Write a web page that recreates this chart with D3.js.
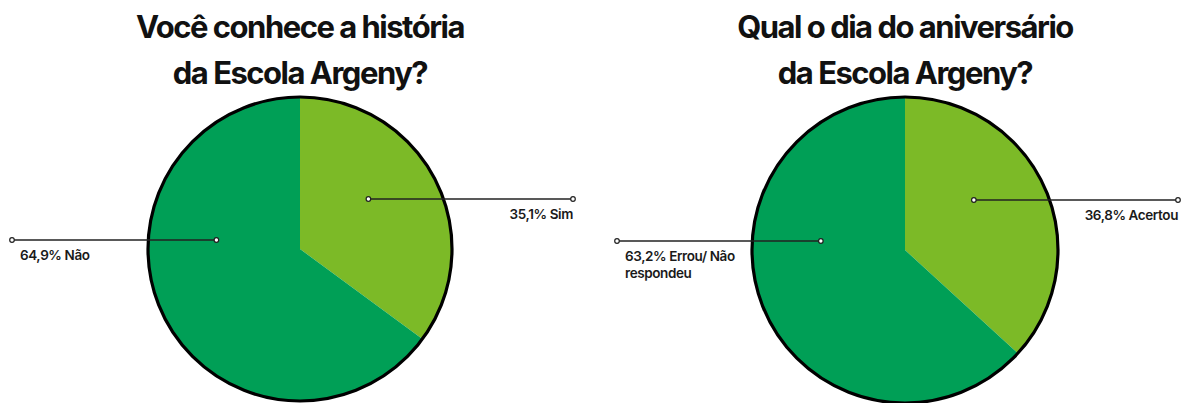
<!DOCTYPE html>
<html><head><meta charset="utf-8">
<script src="https://cdn.jsdelivr.net/npm/d3@7/dist/d3.min.js"></script>
<style>
html,body{margin:0;padding:0;background:#fff;overflow:hidden}
svg{display:block}
</style></head><body>
<script>
// ---- Data ----
const titlesLeft = ["Você conhece a história", "da Escola Argeny?"];
const titlesRight = ["Qual o dia do aniversário", "da Escola Argeny?"];
const categoriesLeft = ["Sim", "Não"];
const valuesLeft = [35.1, 64.9];
const labelsLeft = [["35,1% Sim"], ["64,9% Não"]];
const categoriesRight = ["Acertou", "Errou/ Não respondeu"];
const valuesRight = [36.8, 63.2];
const labelsRight = [["36,8% Acertou"], ["63,2% Errou/ Não", "respondeu"]];

const W = 1187, H = 403;
const svg = d3.select("body").append("svg").attr("width", W).attr("height", H);
const color = d3.scaleOrdinal().range(["#7cba27", "#009f56"]);

function drawPie(cx, cy, r, titles, cats, vals, labels) {
  const g = svg.append("g");
  titles.forEach((t, i) => {
    g.append("text").attr("x", cx).attr("y", 38 + i * 46)
      .attr("text-anchor", "middle")
      .style("font-family", "Inter, 'Open Sans', sans-serif")
      .style("font-weight", 700).style("font-size", "31px")
      .style("letter-spacing", "-1.5px").attr("fill", "#111")
      .text(t);
  });
  const pie = d3.pie().sort(null).value(d => d)(vals);
  const arc = d3.arc().innerRadius(0).outerRadius(r);
  const pg = g.append("g").attr("transform", `translate(${cx},${cy})`);
  color.domain(cats);
  pg.selectAll("path").data(pie).enter().append("path")
    .attr("d", arc).attr("fill", (d, i) => color(cats[i]));
  pg.append("circle").attr("r", r).attr("fill", "none")
    .attr("stroke", "#000").attr("stroke-width", 3.2);

  const lay = [
    {y: -50, x0: 0.45 * r, x1: 273, anchor: "end"},
    {y: -9, x0: -0.55 * r, x1: -288, anchor: "start"}
  ];
  pie.forEach((d, i) => {
    const L = lay[i];
    const lg = pg.append("g");
    lg.append("line").attr("x1", L.x0).attr("x2", L.x1).attr("y1", L.y).attr("y2", L.y)
      .attr("stroke", "#222").attr("stroke-width", 1.3);
    [L.x0, L.x1].forEach(x => lg.append("circle").attr("cx", x).attr("cy", L.y).attr("r", 2.3)
      .attr("fill", "#fff").attr("stroke", "#222").attr("stroke-width", 1.2));
    labels[i].forEach((t, j) => {
      lg.append("text")
        .attr("x", L.anchor === "end" ? L.x1 : L.x1 + 8)
        .attr("y", L.y + 20 + j * 17)
        .attr("text-anchor", L.anchor)
        .style("font-family", "Inter, 'Open Sans', sans-serif")
        .style("font-weight", 600).style("font-size", "13.5px")
        .style("letter-spacing", "-0.4px").attr("fill", "#1a1a1a")
        .text(t);
    });
  });
}

drawPie(300, 249, 152, titlesLeft, categoriesLeft, valuesLeft, labelsLeft);
drawPie(905, 250, 153, titlesRight, categoriesRight, valuesRight, labelsRight);
</script>
</body></html>
